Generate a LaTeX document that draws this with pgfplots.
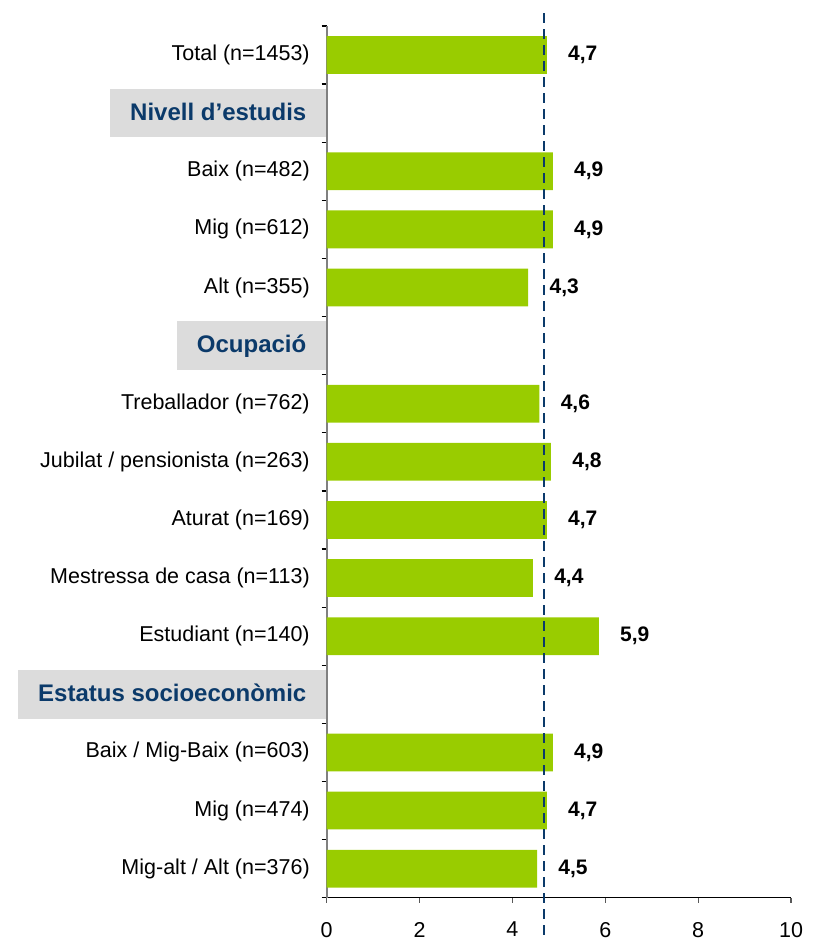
\documentclass[border=0pt]{standalone}
\usepackage{fontspec}
\setmainfont{Liberation Sans}
\usepackage{pgfplots}
\usepackage{pgfplotstable}
\pgfplotsset{compat=1.18}
\definecolor{bargreen}{HTML}{99CC00}
\definecolor{hdrgray}{HTML}{DCDCDC}
\definecolor{navy}{HTML}{0B3A6A}

\pgfplotstableread{
pos val lab
14 4.74 4,7
12 4.87 4,9
11 4.87 4,9
10 4.34 4,3
8 4.58 4,6
7 4.83 4,8
6 4.74 4,7
5 4.44 4,4
4 5.86 5,9
2 4.87 4,9
1 4.74 4,7
0 4.53 4,5
}\datatable

\begin{document}
\begin{tikzpicture}
\begin{axis}[name=ax, at={(0,0)}, anchor=south west,
  scale only axis, width=232.15pt, height=435.85pt,
  xmin=0, xmax=10, ymin=-0.5, ymax=14.5,
  axis x line*=bottom, axis y line*=left,
  x axis line style={black, line width=0.6pt},
  y axis line style={gray, line width=0.9pt},
  xtick={0,2,...,10},
  x tick style={gray!70!black, line width=0.6pt},
  tick align=outside,
  major tick length=2.5pt,
  minor tick length=2.5pt,
  ytick={0,...,14},
  major y tick style={draw=none},
  minor ytick={-0.5,0.5,...,14.5},
  minor y tick style={draw=black, line width=0.6pt},
  yticklabels={Mig-alt / Alt (n=376), Mig (n=474), Baix / Mig-Baix (n=603), {},
    Estudiant (n=140), Mestressa de casa (n=113), Aturat (n=169),
    Jubilat / pensionista (n=263), Treballador (n=762), {},
    Alt (n=355), Mig (n=612), Baix (n=482), {}, Total (n=1453)},
  ticklabel style={font=\fontsize{10.75}{12}\selectfont},
  yticklabel style={inner sep=0pt, anchor=east, xshift=-5.8pt},
  xticklabel style={inner sep=0pt, anchor=north, yshift=-9.5pt},
  /pgf/number format/assume math mode=true,
  clip=false,
]
\addplot[xbar, bar width=0.65, fill=bargreen, draw=none,
  nodes near coords, point meta=explicit symbolic,
  nodes near coords style={anchor=west, inner sep=0pt, xshift=10.5pt,
    font=\bfseries\fontsize{10.5}{12}\selectfont, text=black}]
  table[x=val, y=pos, meta=lab] {\datatable};
\addplot[navy, line width=1.3pt, dash pattern=on 5pt off 3pt, no markers]
  coordinates {(4.68,14.72) (4.68,-1.19)};
\node[fill=hdrgray, anchor=east, minimum height=24.25pt, inner xsep=10pt,
  text=navy, font=\bfseries\fontsize{12}{14}\selectfont, text height=0.72em, text depth=0pt]
  at (axis cs:0,13) {Nivell d’estudis};
\node[fill=hdrgray, anchor=east, minimum height=24.25pt, inner xsep=10pt,
  text=navy, font=\bfseries\fontsize{12}{14}\selectfont, text height=0.72em, text depth=0pt]
  at (axis cs:0,9) {Ocupació};
\node[fill=hdrgray, anchor=east, minimum height=24.25pt, inner xsep=10pt,
  text=navy, font=\bfseries\fontsize{12}{14}\selectfont, text height=0.72em, text depth=0pt]
  at (axis cs:0,3) {Estatus socioeconòmic};
\end{axis}
\path (ax.south west) ++(-163.35pt,-21.15pt) rectangle ++(406pt,470pt);
\end{tikzpicture}
\end{document}
